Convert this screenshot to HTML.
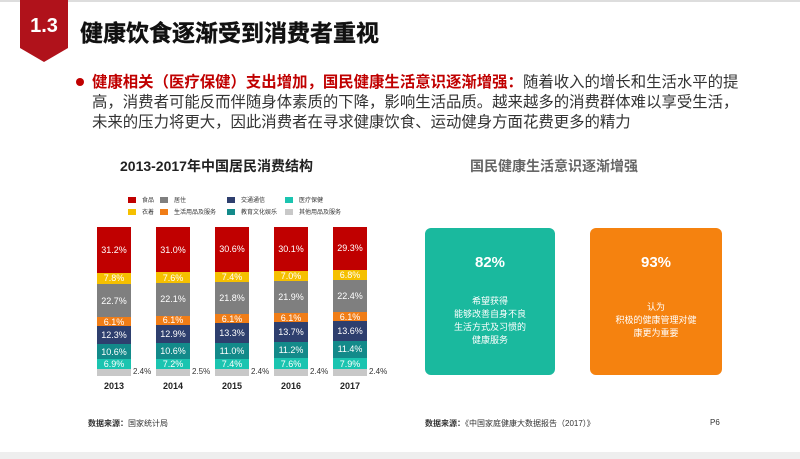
<!DOCTYPE html>
<html><head><meta charset="utf-8"><style>
body{margin:0;width:800px;height:459px;background:#fff;position:relative;overflow:hidden;font-family:"Liberation Sans","Noto Sans CJK SC",sans-serif}
.a{position:absolute}
.seg{position:absolute;left:0;width:34px;color:#fff;font-size:9px;display:flex;align-items:center;justify-content:center}
.lg{position:absolute;font-size:6px;color:#333}
.lg i{display:inline-block;width:8px;height:6px;margin-right:6px;vertical-align:middle}
</style></head><body>
<div class="a" style="left:0;top:0;width:800px;height:2px;background:#ddd"></div>
<div class="a" style="left:20px;top:0;width:48px;height:48px;background:#b0121b"></div>
<div class="a" style="left:20px;top:48px;width:0;height:0;border-left:24px solid transparent;border-right:24px solid transparent;border-top:14px solid #b0121b"></div>
<div class="a" style="left:20px;top:15px;width:48px;text-align:center;color:#fff;font-weight:bold;font-size:20px">1.3</div>
<div class="a" style="left:80px;top:14px;font-size:23px;font-weight:bold;color:#111;-webkit-text-stroke:0.4px #111">健康饮食逐渐受到消费者重视</div>
<div class="a" style="left:76px;top:78px;width:8px;height:8px;border-radius:50%;background:#c00000"></div>
<div class="a" style="left:92px;top:73px;width:652px;font-size:15.4px;line-height:20px;color:#333"><b style="color:#c00000">健康相关（医疗保健）支出增加，国民健康生活意识逐渐增强：</b>随着收入的增长和生活水平的提高，消费者可能反而伴随身体素质的下降，影响生活品质。越来越多的消费群体难以享受生活，未来的压力将更大，因此消费者在寻求健康饮食、运动健身方面花费更多的精力</div>
<div class="a" style="left:120px;top:156px;font-size:14px;font-weight:bold;color:#222">2013-2017年中国居民消费结构</div>
<div class="a" style="left:470px;top:156px;font-size:14px;font-weight:bold;color:#666">国民健康生活意识逐渐增强</div>
<div class="lg" style="left:128px;top:195px"><i style="background:#c00000"></i>食品</div>
<div class="lg" style="left:160px;top:195px"><i style="background:#7f7f7f"></i>居住</div>
<div class="lg" style="left:227px;top:195px"><i style="background:#2e3f6e"></i>交通通信</div>
<div class="lg" style="left:285px;top:195px"><i style="background:#1bc4b0"></i>医疗保健</div>
<div class="lg" style="left:128px;top:207px"><i style="background:#f5c000"></i>衣着</div>
<div class="lg" style="left:160px;top:207px"><i style="background:#f07d17"></i>生活用品及服务</div>
<div class="lg" style="left:227px;top:207px"><i style="background:#138a8a"></i>教育文化娱乐</div>
<div class="lg" style="left:285px;top:207px"><i style="background:#c8c8c8"></i>其他用品及服务</div>
<div id="bars"></div>
<div class="a" style="left:425px;top:228px;width:130px;height:147px;background:#1ab99e;border-radius:6px;color:#fff;text-align:center">
<div style="margin-top:26px;font-size:15px;font-weight:bold">82%</div>
<div style="margin-top:24px;font-size:9px;line-height:13px">希望获得<br>能够改善自身不良<br>生活方式及习惯的<br>健康服务</div></div>
<div class="a" style="left:590px;top:228px;width:132px;height:147px;background:#f5820f;border-radius:6px;color:#fff;text-align:center">
<div style="margin-top:26px;font-size:15px;font-weight:bold">93%</div>
<div style="margin-top:30px;font-size:9px;line-height:13px">认为<br>积极的健康管理对健<br>康更为重要</div></div>
<div class="a" style="left:88px;top:418px;font-size:8px;color:#333"><b>数据来源：</b>国家统计局</div>
<div class="a" style="left:425px;top:418px;font-size:8px;color:#333"><b>数据来源：</b>《中国家庭健康大数据报告（2017）》</div>
<div class="a" style="left:710px;top:418px;font-size:8px;color:#333">P6</div>
<div class="a" style="left:0;top:452px;width:800px;height:7px;background:#eee"></div>
<script>
var d=[["2013",[31.2,7.8,22.7,6.1,12.3,10.6,6.9],"2.4%"],["2014",[31.0,7.6,22.1,6.1,12.9,10.6,7.2],"2.5%"],["2015",[30.6,7.4,21.8,6.1,13.3,11.0,7.4],"2.4%"],["2016",[30.1,7.0,21.9,6.1,13.7,11.2,7.6],"2.4%"],["2017",[29.3,6.8,22.4,6.1,13.6,11.4,7.9],"2.4%"]];
var c=["#c00000","#f5c000","#7f7f7f","#f07d17","#2e3f6e","#138a8a","#1bc4b0"];
var h="";
d.forEach(function(r,i){var x=97+i*59,y=227,s=146/100;
h+='<div class="a" style="left:'+x+'px;top:0">';
r[1].forEach(function(v,j){var hh=v*s;h+='<div class="seg" style="top:'+y+'px;height:'+hh+'px;background:'+c[j]+'">'+v.toFixed(1)+'%</div>';y+=hh;});
h+='<div class="seg" style="top:'+y+'px;height:'+(146*1.024-(y-227))+'px;background:#c8c8c8"></div>';
h+='<div class="a" style="left:36px;top:367px;font-size:8px;color:#333">'+r[2]+'</div>';
h+='<div class="a" style="left:0;width:34px;top:381px;text-align:center;font-size:9px;font-weight:bold;color:#222">'+r[0]+'</div></div>';});
document.getElementById("bars").innerHTML=h;
</script>
</body></html>
